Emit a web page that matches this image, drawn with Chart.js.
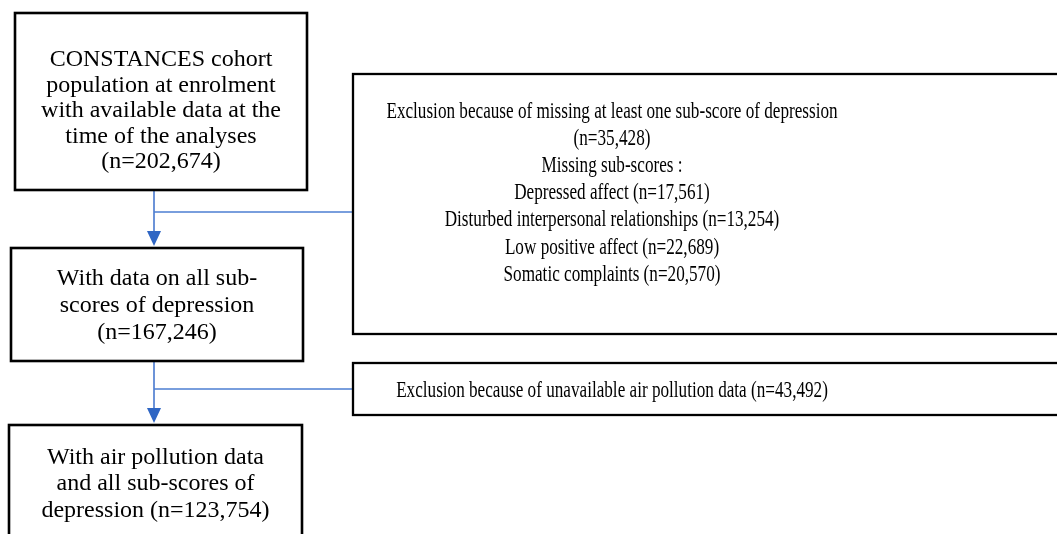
<!DOCTYPE html>
<html>
<head>
<meta charset="utf-8">
<script src="https://cdn.jsdelivr.net/npm/chart.js@4"></script>
<style>
  html, body { margin: 0; padding: 0; background: #fff; }
  #wrap { width: 1057px; height: 534px; }
</style>
</head>
<body>
<div id="wrap"><canvas id="flow" width="1057" height="534"></canvas></div>
<script>
// flow stages (left column)
const stageLabels = [
  'CONSTANCES cohort\npopulation at enrolment\nwith available data at the\ntime of the analyses',
  'With data on all sub-\nscores of depression',
  'With air pollution data\nand all sub-scores of\ndepression'
];
const stageCounts = [202674, 167246, 123754];

// exclusions (right column)
const exclusionLabels = [
  'Exclusion because of missing at least one sub-score of depression',
  'Exclusion because of unavailable air pollution data'
];
const exclusionCounts = [35428, 43492];

// missing sub-scores detail
const subscoreLabels = ['Depressed affect', 'Disturbed interpersonal relationships', 'Low positive affect', 'Somatic complaints'];
const subscoreCounts = [17561, 13254, 22689, 20570];

const fmt = n => '(n=' + n.toLocaleString('en-US') + ')';

// box layout in diagram units (x 0..1057, y 0..534 top-down)
const layout = {
  stages: [
    { x0: 15, x1: 307, y0: 13, y1: 190, lineH: 25.5, midY: 111 },
    { x0: 11, x1: 303, y0: 248, y1: 361, lineH: 27, midY: 306 },
    { x0: 9, x1: 302, y0: 425, y1: 545, lineH: 26.5, midY: 484 }
  ],
  exclusions: [
    { x0: 353, x1: 1062, y0: 74, y1: 334, lineH: 27.2, midY: 193, textX: 612 },
    { x0: 353, x1: 1062, y0: 363, y1: 415, lineH: 27, midY: 391, textX: 612 }
  ],
  trunkX: 154,
  branchY: [212, 389]
};

function stageLines(i) {
  const lines = stageLabels[i].split('\n');
  if (i === 2) lines[lines.length - 1] += ' ' + fmt(stageCounts[i]);
  else lines.push(fmt(stageCounts[i]));
  return lines;
}

function exclusionLines(i) {
  if (i === 0) {
    const lines = [exclusionLabels[0], fmt(exclusionCounts[0]), 'Missing sub-scores :'];
    subscoreLabels.forEach((s, k) => lines.push(s + ' ' + fmt(subscoreCounts[k])));
    return lines;
  }
  return [exclusionLabels[i] + ' ' + fmt(exclusionCounts[i])];
}

const flowPlugin = {
  id: 'flow',
  afterDraw(chart) {
    const ctx = chart.ctx;
    const xs = chart.scales.x, ys = chart.scales.y;
    const px = v => xs.getPixelForValue(v);
    const py = v => ys.getPixelForValue(v);

    function box(b, lw) {
      ctx.save();
      ctx.strokeStyle = '#000';
      ctx.lineWidth = lw;
      ctx.strokeRect(px(b.x0), py(b.y0), px(b.x1) - px(b.x0), py(b.y1) - py(b.y0));
      ctx.restore();
    }

    function text(lines, b, font, squeeze) {
      ctx.save();
      ctx.font = font;
      ctx.fillStyle = '#000';
      ctx.textAlign = 'center';
      ctx.textBaseline = 'middle';
      const cx = b.textX !== undefined ? px(b.textX) : (px(b.x0) + px(b.x1)) / 2;
      const top = py(b.midY) - (lines.length - 1) * b.lineH / 2;
      lines.forEach((l, k) => {
        const w = ctx.measureText(l).width;
        ctx.fillText(l, cx, top + k * b.lineH, w * squeeze);
      });
      ctx.restore();
    }

    // connectors
    const tx = px(layout.trunkX);
    const s = layout.stages, e = layout.exclusions;
    [0, 1].forEach(i => {
      const ya = py(s[i].y1), yb = py(s[i + 1].y0), yh = py(layout.branchY[i]);
      ctx.save();
      ctx.strokeStyle = '#3b6fcb';
      ctx.lineWidth = 1.5;
      ctx.beginPath();
      ctx.moveTo(tx, ya);
      ctx.lineTo(tx, yb - 14);
      ctx.stroke();
      ctx.strokeStyle = '#4d7ed2';
      ctx.lineWidth = 1.3;
      ctx.beginPath();
      ctx.moveTo(tx, yh);
      ctx.lineTo(px(e[i].x0), yh);
      ctx.stroke();
      ctx.fillStyle = '#2f66c4';
      ctx.beginPath();
      ctx.moveTo(tx - 7, yb - 17);
      ctx.lineTo(tx + 7, yb - 17);
      ctx.lineTo(tx, yb - 2);
      ctx.closePath();
      ctx.fill();
      ctx.restore();
    });

    s.forEach(b => box(b, 2.6));
    e.forEach(b => box(b, 2.3));

    const serif = '"Liberation Serif", "Times New Roman", serif';
    s.forEach((b, i) => text(stageLines(i), b, '24px ' + serif, 1));
    e.forEach((b, i) => text(exclusionLines(i), b, '23.5px ' + serif, 0.73));
  }
};

new Chart(document.getElementById('flow'), {
  type: 'scatter',
  data: { datasets: [{ data: [], pointRadius: 0 }] },
  options: {
    responsive: false,
    animation: false,
    layout: { padding: 0 },
    plugins: { legend: { display: false }, tooltip: { enabled: false } },
    scales: {
      x: { type: 'linear', min: 0, max: 1057, display: false },
      y: { type: 'linear', min: 0, max: 534, reverse: true, display: false }
    }
  },
  plugins: [flowPlugin]
});
</script>
</body>
</html>
